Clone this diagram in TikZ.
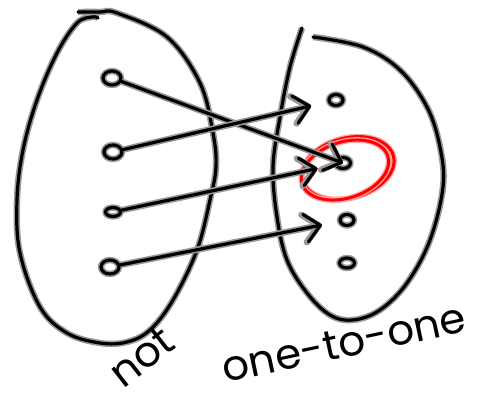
\documentclass[tikz,border=0pt]{standalone}
\usepackage{fontspec}
\setmainfont{Poppins}
\usetikzlibrary{arrows.meta,shapes.geometric}
\begin{document}
\begin{tikzpicture}[x=1pt,y=-1pt,
  ink/.style={draw=black, line width=3.2pt, line cap=round, line join=round,
              preaction={draw=black!40, line width=6.4pt}},
  redink/.style={draw=red, line width=3pt, line cap=round, line join=round,
              preaction={draw=red!35, line width=5.6pt}},
  dot/.style={ink, ellipse, inner sep=0pt, minimum width=18pt, minimum height=14pt},
  arr/.style={ink, -{Straight Barb[length=15pt,width=28pt,round]}},
  hand/.style={font=\fontsize{42}{42}\selectfont, inner sep=0pt}
]
\fill[white] (0,0) rectangle (491,401);
\useasboundingbox (0,0) rectangle (491,401);

% left set
\draw[ink] plot[smooth, tension=0.6] coordinates {(78,12)(100,12)(117,13)(167,37)(200,83)(213,133)(216,167)(210,200)(197,250)(173,300)(150,330)(127,342)(100,343)(67,333)(40,307)(20,253)(17,200)(23,150)(37,100)(57,53)(77,23)(92,17)(98,18)};

% right set
\draw[ink] plot[smooth, tension=0.6] coordinates {(313,37)(363,47)(400,70)(427,107)(440,147)(443,187)(430,240)(407,283)(380,310)(353,320)(330,315)(307,293)(287,260)(277,217)(273,167)(280,117)(290,67)(302,28)};

% points
\node[dot] (l1) at (112,78) {};
\node[dot] (l2) at (113,152) {};
\node[dot, minimum width=15pt, minimum height=9pt] (l3) at (113,212) {};
\node[dot] (l4) at (110,267) {};

\node[dot, minimum width=14pt, minimum height=11pt] (r1) at (336,100) {};
\node[dot, minimum width=15pt, minimum height=11pt] (r2) at (343,163) {};
\node[dot, minimum width=14pt, minimum height=11pt] (r3) at (347,220) {};
\node[dot, minimum width=15pt, minimum height=10pt] (r4) at (347,263) {};

% highlight
\node[redink, ellipse, minimum width=94pt, minimum height=60pt, rotate=15] (hl) at (348,168) {};
\node[redink, ellipse, minimum width=90pt, minimum height=56pt, rotate=18] (hl2) at (345,170) {};

% arrows
\draw[arr] (l1) -- (r2.center);
\draw[arr, shorten >=17pt] (l2) -- (r1);
\draw[arr, shorten >=17pt] (l3) -- (r2);
\draw[arr, shorten >=17pt] (l4) -- (r3);

% labels
\node[hand, rotate=38] (t1) at (142,357) {not};
\node[hand, rotate=12] (t2) at (344,343) {one-to-one};
\end{tikzpicture}
\end{document}
